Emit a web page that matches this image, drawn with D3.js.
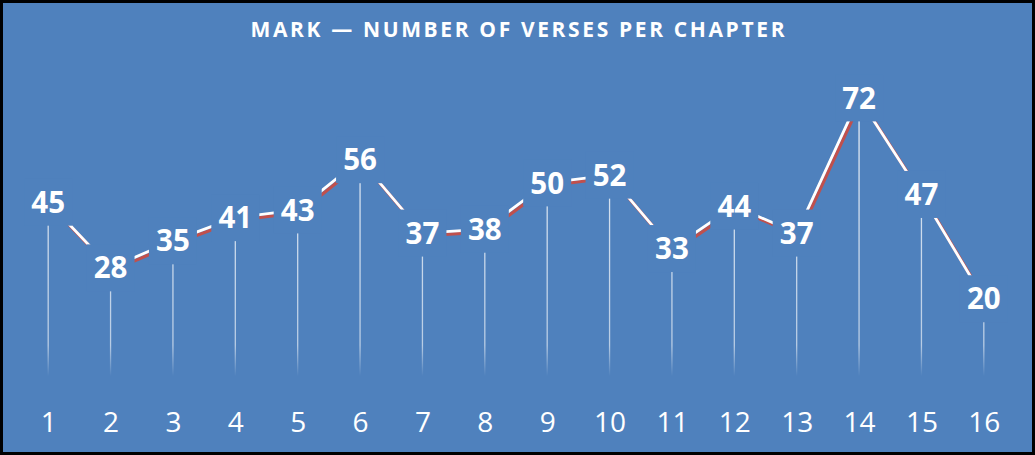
<!DOCTYPE html>
<html>
<head>
<meta charset="utf-8">
<style>
  html, body { margin: 0; padding: 0; background: #000; }
  svg { display: block; }
</style>
</head>
<body>
<svg width="1035" height="455"></svg>
<script src="https://d3js.org/d3.v7.min.js"></script>
<script>
// chart data
var chapters = ["1", "2", "3", "4", "5", "6", "7", "8", "9", "10", "11", "12", "13", "14", "15", "16"];
var verses = [45, 28, 35, 41, 43, 56, 37, 38, 50, 52, 33, 44, 37, 72, 47, 20];
var title = "MARK \u2014 NUMBER OF VERSES PER CHAPTER";

var bg = "#4F81BD", red = "#C0504D";

var svg = d3.select("svg"),
    W = +svg.attr("width"),
    H = +svg.attr("height");

// frame
svg.append("rect").attr("x", 0).attr("y", 0).attr("width", W).attr("height", H).attr("fill", "#000");
svg.append("rect").attr("x", 3).attr("y", 3).attr("width", W - 6).attr("height", H - 6).attr("fill", bg);

var x = d3.scalePoint().domain(chapters).range([17, 1015]).padding(0.5);
var y = d3.scaleLinear().domain([0, 80]).range([376, 67]);

var data = chapters.map(function(c, i) { return {ch: c, v: verses[i]}; });

// fading gradient for drop lines
var defs = svg.append("defs");
var grad = defs.append("linearGradient").attr("id", "dropFade")
    .attr("gradientUnits", "userSpaceOnUse")
    .attr("x1", 0).attr("x2", 0).attr("y1", y(80)).attr("y2", y(0));
grad.append("stop").attr("offset", 0).attr("stop-color", "#fff").attr("stop-opacity", 0.9);
grad.append("stop").attr("offset", 0.9).attr("stop-color", "#fff").attr("stop-opacity", 0.6);
grad.append("stop").attr("offset", 1).attr("stop-color", "#fff").attr("stop-opacity", 0);

var g = svg.append("g");

// drop lines
g.selectAll(".drop").data(data).enter().append("line")
    .attr("class", "drop")
    .attr("x1", function(d) { return x(d.ch); })
    .attr("x2", function(d) { return x(d.ch); })
    .attr("y1", function(d) { return y(d.v); })
    .attr("y2", y(0))
    .attr("stroke", "url(#dropFade)")
    .attr("stroke-width", 1.3);

var line = d3.line().x(function(d) { return x(d.ch); }).y(function(d) { return y(d.v); });

// red shadow then white line
g.append("path").datum(data)
    .attr("transform", "translate(2,2.6)")
    .attr("fill", "none").attr("stroke", red).attr("stroke-width", 3.2)
    .attr("d", line);
g.append("path").datum(data)
    .attr("fill", "none").attr("stroke", "#fff").attr("stroke-width", 2.8)
    .attr("d", line);

// labels with background boxes
var lab = g.selectAll(".lab").data(data).enter().append("g")
    .attr("class", "lab")
    .attr("transform", function(d) { return "translate(" + x(d.ch) + "," + y(d.v) + ")"; });
lab.append("rect")
    .attr("x", -24).attr("y", -23.5).attr("width", 48).attr("height", 47)
    .attr("fill", bg);
lab.append("text")
    .attr("text-anchor", "middle")
    .attr("dy", "0.36em")
    .attr("fill", "#fff")
    .style("font-family", "'Open Sans', sans-serif")
    .style("font-weight", 700)
    .style("font-size", "29.5px")
    .text(function(d) { return d.v; });

// x axis
var ax = svg.append("g").attr("transform", "translate(0," + y(0) + ")")
    .call(d3.axisBottom(x).tickSize(0));
ax.select(".domain").remove();
ax.selectAll("text")
    .attr("y", 56).attr("dy", 0)
    .attr("fill", "#fff")
    .style("font-family", "'Open Sans', sans-serif")
    .style("font-size", "28px");

// title
svg.append("text")
    .attr("x", W / 2).attr("y", 36.5)
    .attr("text-anchor", "middle")
    .attr("fill", "#fff")
    .attr("textLength", 534).attr("lengthAdjust", "spacing")
    .style("font-family", "'Open Sans', sans-serif")
    .style("font-weight", 700)
    .style("font-size", "21px")
    .text(title);
</script>
</body>
</html>
